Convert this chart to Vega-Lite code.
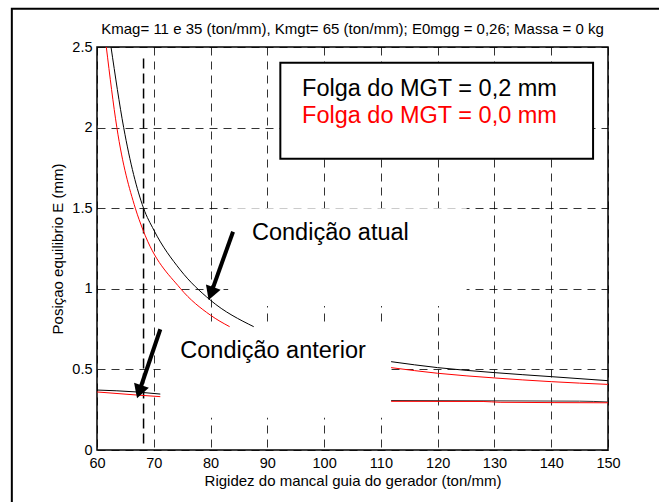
{
  "$schema": "https://vega.github.io/schema/vega-lite/v6.json",
  "width": 511,
  "height": 403,
  "autosize": {"type": "none"},
  "padding": {"left": 97, "top": 47, "right": 51, "bottom": 52},
  "background": "white",
  "datasets": {
    "curves": [
      {"x": 62.47, "y": 2.5, "s": "b1", "c": "black"},
      {"x": 64.7, "y": 2.0, "s": "b1", "c": "black"},
      {"x": 68.2, "y": 1.5, "s": "b1", "c": "black"},
      {"x": 70.0, "y": 1.365, "s": "b1", "c": "black"},
      {"x": 74.67, "y": 1.117, "s": "b1", "c": "black"},
      {"x": 79.96, "y": 0.93, "s": "b1", "c": "black"},
      {"x": 87.6, "y": 0.765, "s": "b1", "c": "black"},
      {"x": 61.64, "y": 2.5, "s": "r1", "c": "#ff0000"},
      {"x": 63.5, "y": 2.0, "s": "r1", "c": "#ff0000"},
      {"x": 66.75, "y": 1.5, "s": "r1", "c": "#ff0000"},
      {"x": 68.1, "y": 1.365, "s": "r1", "c": "#ff0000"},
      {"x": 74.67, "y": 1.003, "s": "r1", "c": "#ff0000"},
      {"x": 79.96, "y": 0.837, "s": "r1", "c": "#ff0000"},
      {"x": 83.36, "y": 0.765, "s": "r1", "c": "#ff0000"},
      {"x": 60, "y": 0.372, "s": "b2", "c": "black"},
      {"x": 67, "y": 0.36, "s": "b2", "c": "black"},
      {"x": 71.15, "y": 0.347, "s": "b2", "c": "black"},
      {"x": 60, "y": 0.36, "s": "r2", "c": "#ff0000"},
      {"x": 67, "y": 0.341, "s": "r2", "c": "#ff0000"},
      {"x": 71.15, "y": 0.331, "s": "r2", "c": "#ff0000"},
      {"x": 111.8, "y": 0.548, "s": "b3", "c": "black"},
      {"x": 120, "y": 0.511, "s": "b3", "c": "black"},
      {"x": 130, "y": 0.48, "s": "b3", "c": "black"},
      {"x": 140, "y": 0.455, "s": "b3", "c": "black"},
      {"x": 150, "y": 0.43, "s": "b3", "c": "black"},
      {"x": 111.8, "y": 0.511, "s": "r3", "c": "#ff0000"},
      {"x": 120, "y": 0.476, "s": "r3", "c": "#ff0000"},
      {"x": 130, "y": 0.447, "s": "r3", "c": "#ff0000"},
      {"x": 140, "y": 0.424, "s": "r3", "c": "#ff0000"},
      {"x": 150, "y": 0.407, "s": "r3", "c": "#ff0000"},
      {"x": 111.8, "y": 0.307, "s": "b4", "c": "#333333"},
      {"x": 130, "y": 0.305, "s": "b4", "c": "#333333"},
      {"x": 145, "y": 0.303, "s": "b4", "c": "#333333"},
      {"x": 150, "y": 0.298, "s": "b4", "c": "#333333"},
      {"x": 111.8, "y": 0.302, "s": "r4", "c": "#ff0000"},
      {"x": 128, "y": 0.301, "s": "r4", "c": "#ff0000"},
      {"x": 131, "y": 0.296, "s": "r4", "c": "#ff0000"},
      {"x": 150, "y": 0.293, "s": "r4", "c": "#ff0000"}
    ],
    "boxes": [
      {"x": 83.1, "x2": 125.1, "y": 0.893, "y2": 1.5},
      {"x": 71.2, "x2": 111.8, "y": 0.2, "y2": 0.765}
    ],
    "legendbox": [{"x": 92.29, "x2": 147.37, "y": 1.807, "y2": 2.403}],
    "border": [{"x": 45.0, "x2": 170, "y": -0.6, "y2": 2.738}],
    "vline": [{"x": 68.2, "y": 0.04, "y2": 2.45}],
    "xt": [{"x": 60}, {"x": 70}, {"x": 80}, {"x": 90}, {"x": 100}, {"x": 110}, {"x": 120}, {"x": 130}, {"x": 140}, {"x": 150}],
    "yt": [{"y": 0}, {"y": 0.5}, {"y": 1}, {"y": 1.5}, {"y": 2}, {"y": 2.5}],
    "shafts": [
      {"x": 83.96, "y": 1.354, "x2": 80.25, "y2": 0.989},
      {"x": 71.15, "y": 0.749, "x2": 67.61, "y2": 0.38}
    ],
    "heads": [
      {"x": 79.66, "y": 0.93, "a": 199.7},
      {"x": 67.05, "y": 0.321, "a": 198.7}
    ],
    "texts": [
      {"x": 96.11, "y": 2.198, "t": "Folga do MGT = 0,2 mm", "c": "black"},
      {"x": 96.11, "y": 2.027, "t": "Folga do MGT = 0,0 mm", "c": "#ff0000"},
      {"x": 87.3, "y": 1.303, "t": "Condição atual", "c": "black"},
      {"x": 74.67, "y": 0.569, "t": "Condição anterior", "c": "black"}
    ],
    "titletext": [{"x": 105, "y": 2.581, "t": "Kmag= 11 e 35 (ton/mm), Kmgt= 65 (ton/mm); E0mgg = 0,26; Massa = 0 kg"}]
  },
  "encoding": {
    "x": {
      "field": "x", "type": "quantitative",
      "scale": {"domain": [60, 150], "nice": false, "zero": false},
      "axis": {
        "values": [60, 70, 80, 90, 100, 110, 120, 130, 140, 150],
        "format": "d",
        "title": "Rigidez do mancal guia do gerador (ton/mm)",
        "labelPadding": 6,
        "titlePadding": 4
      }
    },
    "y": {
      "field": "y", "type": "quantitative",
      "scale": {"domain": [0, 2.5], "nice": false, "zero": false},
      "axis": {
        "values": [0, 0.5, 1, 1.5, 2, 2.5],
        "format": "~g",
        "title": "Posiçao equilibrio E (mm)",
        "labelPadding": 5,
        "titlePadding": 6
      }
    }
  },
  "layer": [
    {
      "data": {"name": "border"},
      "mark": {"type": "rect", "filled": false, "stroke": "black", "strokeWidth": 2},
      "encoding": {"x2": {"field": "x2"}, "y2": {"field": "y2"}}
    },
    {
      "data": {"name": "boxes"},
      "mark": {"type": "rect", "fill": "white", "strokeWidth": 0},
      "encoding": {"x2": {"field": "x2"}, "y2": {"field": "y2"}}
    },
    {
      "data": {"name": "legendbox"},
      "mark": {"type": "rect", "fill": "white", "stroke": "black", "strokeWidth": 2},
      "encoding": {"x2": {"field": "x2"}, "y2": {"field": "y2"}}
    },
    {
      "data": {"name": "vline"},
      "mark": {"type": "rule", "color": "black", "strokeWidth": 1.5, "strokeDash": [10, 5]},
      "encoding": {"y2": {"field": "y2"}}
    },
    {
      "data": {"name": "curves"},
      "mark": {"type": "line", "strokeWidth": 1, "interpolate": "monotone"},
      "encoding": {
        "color": {"field": "c", "type": "nominal", "scale": null},
        "detail": {"field": "s"}
      }
    },
    {
      "data": {"name": "xt"},
      "mark": {"type": "rule", "color": "black", "strokeWidth": 1, "y2Offset": -5},
      "encoding": {"y": {"datum": 0}, "y2": {"datum": 0}}
    },
    {
      "data": {"name": "xt"},
      "mark": {"type": "rule", "color": "black", "strokeWidth": 1, "y2Offset": 5},
      "encoding": {"y": {"datum": 2.5}, "y2": {"datum": 2.5}}
    },
    {
      "data": {"name": "yt"},
      "mark": {"type": "rule", "color": "black", "strokeWidth": 1, "x2Offset": 5},
      "encoding": {"x": {"datum": 60}, "x2": {"datum": 60}}
    },
    {
      "data": {"name": "yt"},
      "mark": {"type": "rule", "color": "black", "strokeWidth": 1, "x2Offset": -5},
      "encoding": {"x": {"datum": 150}, "x2": {"datum": 150}}
    },
    {
      "data": {"name": "shafts"},
      "mark": {"type": "rule", "color": "black", "strokeWidth": 4},
      "encoding": {"x2": {"field": "x2"}, "y2": {"field": "y2"}}
    },
    {
      "data": {"name": "heads"},
      "mark": {"type": "point", "shape": "M0,0L-0.9,1.6L0.9,1.6Z", "filled": true, "color": "black", "opacity": 1, "size": 300, "strokeWidth": 0},
      "encoding": {"angle": {"field": "a", "type": "quantitative", "scale": null}}
    },
    {
      "data": {"name": "texts"},
      "mark": {"type": "text", "align": "left", "baseline": "alphabetic", "fontSize": 23.5},
      "encoding": {
        "text": {"field": "t"},
        "color": {"field": "c", "type": "nominal", "scale": null}
      }
    },
    {
      "data": {"name": "titletext"},
      "mark": {"type": "text", "align": "center", "baseline": "alphabetic", "fontSize": 15, "color": "black"},
      "encoding": {"text": {"field": "t"}}
    }
  ],
  "config": {
    "font": "Liberation Sans",
    "view": {"stroke": "black", "strokeWidth": 1.5},
    "axis": {
      "domain": false,
      "ticks": false,
      "grid": true,
      "gridColor": "#000000",
      "gridOpacity": 0.8,
      "gridDash": [8, 6],
      "gridWidth": 1,
      "labelFontSize": 14.5,
      "labelColor": "black",
      "labelFlush": false,
      "labelOverlap": false,
      "titleFontSize": 15,
      "titleFontWeight": "normal",
      "titleColor": "black"
    }
  }
}
